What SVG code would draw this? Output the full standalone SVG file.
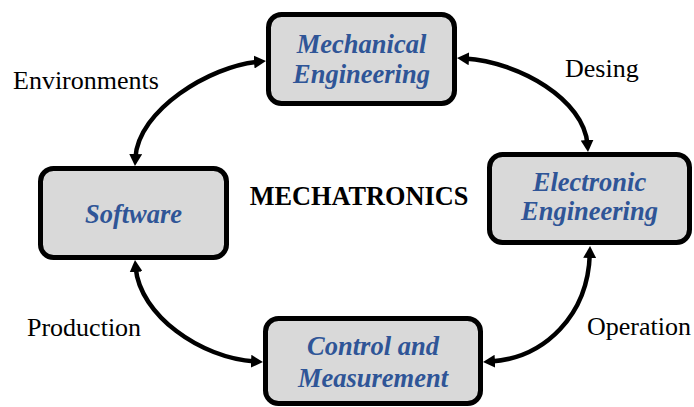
<svg xmlns="http://www.w3.org/2000/svg" width="694" height="407" viewBox="0 0 694 407">
  <style>
    .box { fill: #d9d9d9; stroke: #000; stroke-width: 5; }
    .node-label { font-weight: bold; font-style: italic; font-size: 26.5px; fill: #2f5597; text-anchor: middle; }
    .edge-label { font-size: 26px; fill: #000; }
    .title { font-weight: bold; font-size: 26.3px; fill: #000; text-anchor: middle; }
    .link { fill: none; stroke: #000; stroke-width: 4.5; marker-start: url(#head); marker-end: url(#head); }
  </style>
  <defs>
    <marker id="head" markerUnits="userSpaceOnUse" markerWidth="12" markerHeight="13" refX="4" refY="6.5" orient="auto-start-reverse">
      <path d="M0,0 L12,6.5 L0,13 z" fill="#000"/>
    </marker>
  </defs>

  <rect width="694" height="407" fill="#fff"/>

  <g font-family="'Liberation Serif', Tinos, 'Times New Roman', 'DejaVu Serif', serif">
    <!-- connectors -->
    <g id="connectors">
      <path class="link" d="M258,61.7 C210,66 138,110 135.4,158"/>
      <path class="link" d="M465,58.5 C520,62 584,100 587.4,144"/>
      <path class="link" d="M135.7,268 C140,315 200,358 255,361.5"/>
      <path class="link" d="M491,361.5 C545,358 588,315 589.8,254"/>
    </g>

    <!-- connector labels -->
    <g id="labels">
      <text class="edge-label" x="13" y="89">Environments</text>
      <text class="edge-label" x="565" y="77">Desing</text>
      <text class="edge-label" x="27" y="336">Production</text>
      <text class="edge-label" x="587" y="335">Operation</text>
    </g>

    <text class="title" x="359" y="205">MECHATRONICS</text>

    <g id="mechanical">
      <rect class="box" x="268.5" y="14.5" width="186" height="89" rx="13"/>
      <text class="node-label" x="361.5" y="53">Mechanical</text>
      <text class="node-label" x="361.5" y="83">Engineering</text>
    </g>

    <g id="electronic">
      <rect class="box" x="489.5" y="154.5" width="200" height="88" rx="13"/>
      <text class="node-label" x="589.5" y="191">Electronic</text>
      <text class="node-label" x="589.5" y="220">Engineering</text>
    </g>

    <g id="software">
      <rect class="box" x="40.5" y="168.5" width="186" height="89" rx="13"/>
      <text class="node-label" x="133.5" y="223">Software</text>
    </g>

    <g id="control">
      <rect class="box" x="265.5" y="318.5" width="215" height="85" rx="13"/>
      <text class="node-label" x="373" y="355">Control and</text>
      <text class="node-label" x="373" y="387">Measurement</text>
    </g>
  </g>
</svg>
